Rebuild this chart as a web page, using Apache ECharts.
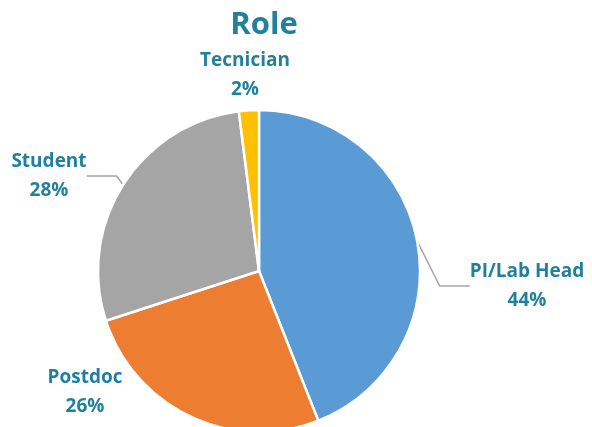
<!DOCTYPE html>
<html>
<head>
<meta charset="utf-8">
<script src="https://cdn.jsdelivr.net/npm/echarts@6/dist/echarts.min.js"></script>
<style>html,body{margin:0;padding:0;background:#fff;}#c{width:592px;height:427px;}</style>
</head>
<body>
<div id="c"></div>
<script>
var categories = ['PI/Lab Head', 'Postdoc', 'Student', 'Tecnician'];
var values = [44, 26, 28, 2];
var colors = ['#5B9BD5', '#ED7D31', '#A5A5A5', '#FFC000'];
var labelPos = [[527, 286], [85, 392], [49, 176], [245, 75]];
var showLines = [true, false, true, false];

var chart = echarts.init(document.getElementById('c'));
var textColor = '#21809B';
chart.setOption({
  animation: false,
  title: {
    text: 'Role', left: 259, top: 5, textAlign: 'center',
    textStyle: { fontFamily: 'Open Sans', fontWeight: 'bold', fontSize: 31, color: textColor }
  },
  series: [{
    type: 'pie',
    center: [259, 271],
    radius: 161,
    startAngle: 90,
    clockwise: true,
    itemStyle: { borderColor: '#fff', borderWidth: 2.5 },
    label: {
      show: true, position: 'outside',
      formatter: '{b}\n{d}%',
      overflow: 'none', bleedMargin: 0, edgeDistance: 0,
      fontFamily: 'Open Sans', fontWeight: 'bold', fontSize: 19, lineHeight: 29,
      color: textColor, align: 'center'
    },
    labelLine: { show: true, lineStyle: { color: '#A6A6A6', width: 1.5 } },
    labelLayout: function (p) {
      var pos = labelPos[p.dataIndex];
      return { x: pos[0], y: pos[1], align: 'center', verticalAlign: 'middle' };
    },
    data: categories.map(function (c, i) {
      return { name: c, value: values[i], itemStyle: { color: colors[i] }, labelLine: { show: showLines[i] } };
    })
  }]
});
</script>
</body>
</html>
